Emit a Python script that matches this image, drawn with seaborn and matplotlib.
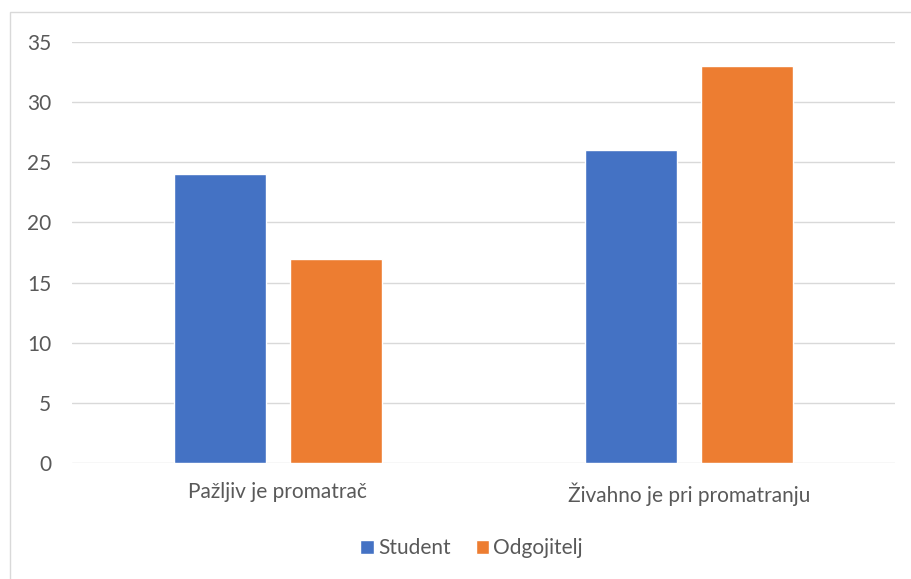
import matplotlib.pyplot as plt
import seaborn as sns
import pandas as pd
from matplotlib.patches import Rectangle

sns.set_theme(style="white")
plt.rcParams['font.family'] = ['Lato', 'DejaVu Sans']

# Data
categories = ['Pažljiv je promatrač', 'Živahno je pri promatranju']
series = ['Student', 'Odgojitelj']
student = [24, 26]
odgojitelj = [17, 33]
colors = ['#4472C4', '#ED7D31']
text_color = '#595959'

df = pd.DataFrame({
    'Kategorija': categories * 2,
    'Skupina': [series[0]] * 2 + [series[1]] * 2,
    'Vrijednost': student + odgojitelj,
})

fig = plt.figure(figsize=(9.11, 5.79), dpi=100)
ax = fig.add_axes([0.079, 0.2003, 0.903, 0.7272])

sns.barplot(data=df, x='Kategorija', y='Vrijednost', hue='Skupina',
            palette=colors, width=0.564, gap=0.207, ax=ax, saturation=1)

ax.set_ylim(0, 35)
ax.set_xlim(-0.5, 1.5)
ax.set_yticks(range(0, 36, 5))
ax.yaxis.grid(True, color='#D9D9D9', linewidth=1)
ax.set_axisbelow(True)
for s in ax.spines.values():
    s.set_visible(False)
ax.set_xlabel('')
ax.set_ylabel('')
ax.tick_params(axis='both', length=0, labelsize=15, colors=text_color)
ax.tick_params(axis='y', pad=15)
ax.tick_params(axis='x', pad=14)

leg = ax.legend(loc='center', bbox_to_anchor=(0.486, -0.202), ncol=2, frameon=False,
                fontsize=15, handlelength=0.65, handleheight=0.65, handletextpad=0.2,
                columnspacing=1.2)
for t in leg.get_texts():
    t.set_color(text_color)

# chart border
fig.patches.append(Rectangle((9.5 / 911, -0.1), 1.0, (579 - 12.5) / 579 + 0.1,
                             transform=fig.transFigure, fill=False,
                             edgecolor='#D9D9D9', linewidth=1))

plt.savefig('out.png', dpi=100)
